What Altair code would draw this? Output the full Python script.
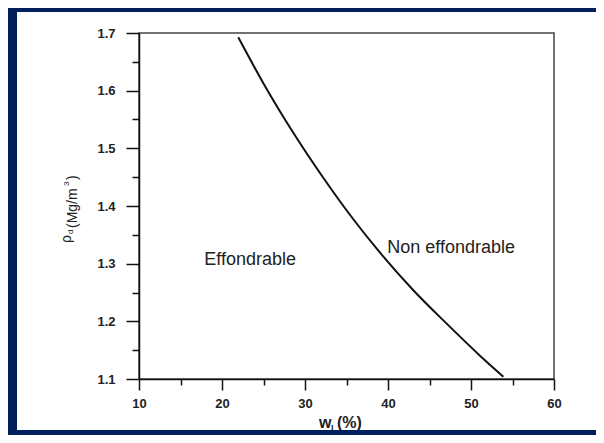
import altair as alt
import pandas as pd

# ---- data ----
wl = [21.96, 24.98, 28.59, 32.2, 35.82, 39.04, 43.05, 47.07, 51.08, 53.9]
rho = [1.6925, 1.613, 1.527, 1.449, 1.377, 1.319, 1.254, 1.196, 1.1405, 1.104]

x_ticks = [10, 15, 20, 25, 30, 35, 40, 45, 50, 55, 60]
y_ticks = [1.1, 1.15, 1.2, 1.25, 1.3, 1.35, 1.4, 1.45, 1.5, 1.55, 1.6, 1.65, 1.7]

region_labels = ["Effondrable", "Non effondrable"]
region_x = [23.4, 47.6]
region_y = [1.306, 1.327]

FONT = "Liberation Sans"
NAVY = "#00205B"
W, H = 415, 346
PAD = {"left": 131, "top": 25, "right": 42, "bottom": 56}

curve_df = pd.DataFrame({"wl": wl, "rho": rho})
label_df = pd.DataFrame({"wl": region_x, "rho": region_y, "label": region_labels})
one = pd.DataFrame({"a": [0]})

x_scale = alt.Scale(domain=[10, 60], nice=False, zero=False)
y_scale = alt.Scale(domain=[1.1, 1.7], nice=False, zero=False)

common_axis = dict(
    title=None, grid=False, labelFont=FONT, labelFontSize=13, labelFontWeight="bold",
    labelColor="#222", domainColor="#111", domainWidth=1.5, tickColor="#111",
    tickWidth=1.5, labelFlush=False, labelOverlap=False, labelBound=False,
)
x_axis = alt.Axis(
    values=x_ticks,
    labelExpr="datum.value % 10 === 0 ? datum.label : ''",
    tickSize={"condition": {"test": "datum.value % 10 === 0", "value": 11}, "value": 6},
    labelPadding=7,
    **common_axis,
)
y_axis = alt.Axis(
    values=y_ticks,
    labelExpr="round(datum.value*100) % 10 === 0 ? format(datum.value, '.1f') : ''",
    tickSize={"condition": {"test": "round(datum.value*100) % 10 === 0", "value": 13}, "value": 7},
    labelPadding=11,
    **common_axis,
)

X = lambda f: alt.X(f"{f}:Q", scale=x_scale, axis=x_axis)
Y = lambda f: alt.Y(f"{f}:Q", scale=y_scale, axis=y_axis)

curve = alt.Chart(curve_df).mark_line(
    color="#111", strokeWidth=2, interpolate="monotone"
).encode(x=X("wl"), y=Y("rho"))

labels = alt.Chart(label_df).mark_text(
    font=FONT, fontSize=18, color="#222", align="center", baseline="middle"
).encode(x=X("wl"), y=Y("rho"), text="label:N")


def txt(s, x, y, size, angle=0, weight="normal"):
    return alt.Chart(one).mark_text(
        text=s, font=FONT, fontSize=size, fontWeight=weight, color="#222",
        align="left", baseline="alphabetic", angle=angle,
    ).encode(x=alt.value(x), y=alt.value(y))


# y title: rho_d (Mg/m^3)
ytitle = [
    txt("ρ", -68, 210, 14, 270),
    txt("d", -66, 201, 8, 270),
    txt("(Mg/m", -62, 195, 14, 270),
    txt("3", -70, 153, 8, 270),
    txt(")", -62, 147, 14, 270),
]
# x title: w_L(%)
xtitle = [
    txt("w", 180, 395, 16, 0, "bold"),
    txt("L", 192, 398, 9, 0, "bold"),
    txt("(%)", 198, 395, 16, 0, "bold"),
]


def band(x1, x2, y1, y2):
    return alt.Chart(one).mark_rect(color=NAVY).encode(
        x=alt.value(x1), x2=alt.value(x2), y=alt.value(y1), y2=alt.value(y2)
    )


total_w = PAD["left"] + W + PAD["right"]
total_h = PAD["top"] + H + PAD["bottom"]
L0, T0 = -PAD["left"], -PAD["top"]
frame = [
    band(L0, L0 + 9, T0, T0 + total_h),                      # left
    band(L0, L0 + total_w, T0, T0 + 4),                      # top
    band(L0, L0 + total_w, T0 + total_h - 5, T0 + total_h),  # bottom
]

chart = alt.layer(curve, labels, *ytitle, *xtitle, *frame).properties(
    width=W, height=H,
    autosize=alt.AutoSizeParams(type="none"),
    padding=PAD,
    background="white",
).configure_view(stroke="#444", strokeWidth=1.5)

chart.save("out.html", embed_options={"renderer": "svg", "actions": False})
